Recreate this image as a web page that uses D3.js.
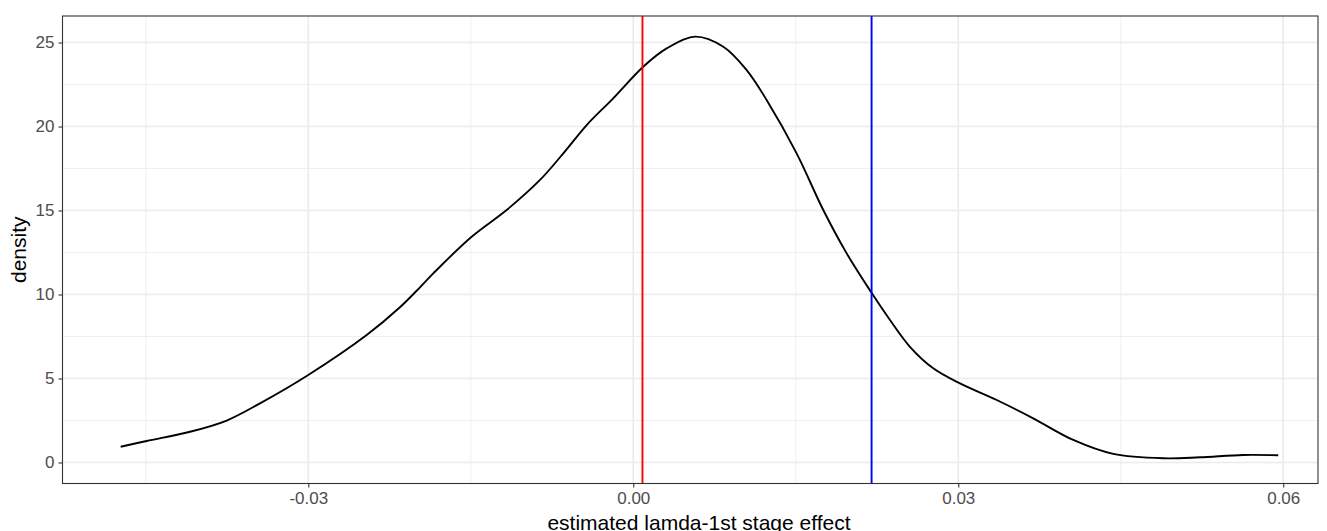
<!DOCTYPE html>
<html lang="en">
<head>
    <meta charset="UTF-8">
    <title>density</title>
    <script src="https://d3js.org/d3.v7.min.js"></script>
    <style>
        body { margin: 0; background: #fff; }
        text { font-family: "Liberation Sans", Arial, sans-serif; }
    </style>
</head>
<body>
<div id="fig"></div>
<script>
    // density estimate
    let xs = [-0.04732, -0.04492, -0.04092, -0.03753, -0.03446, -0.03015, -0.02461, -0.02154,
        -0.01969, -0.01846, -0.01492, -0.01169, -0.00861, -0.00646, -0.00430, -0.00185,
        0.00092, 0.00308, 0.00570, 0.00831, 0.01047, 0.01231, 0.01508, 0.01754, 0.01970,
        0.02203, 0.02370, 0.02554, 0.02769, 0.03016, 0.03355, 0.03692, 0.04062, 0.04431,
        0.04892, 0.05231, 0.05631, 0.05954]
    let dens = [0.94, 1.28, 1.83, 2.50, 3.52, 5.15, 7.59, 9.24,
        10.43, 11.26, 13.44, 15.03, 16.82, 18.40, 20.09, 21.68,
        23.56, 24.65, 25.35, 24.75, 23.36, 21.58, 18.40, 15.03, 12.45,
        10.07, 8.48, 6.89, 5.61, 4.71, 3.72, 2.63, 1.34, 0.51,
        0.25, 0.31, 0.45, 0.43]
    let redLine = 0.00085
    let blueLine = 0.0220
    let xTicks = [-0.03, 0.00, 0.03, 0.06]
    let xMinor = [-0.045, -0.015, 0.015, 0.045]
    let yTicks = [0, 5, 10, 15, 20, 25]
    let yMinor = [2.5, 7.5, 12.5, 17.5, 22.5]

    let W = 1327, H = 531
    let pLeft = 62.5, pRight = 1318, pTop = 16, pBottom = 483.5

    let svg = d3.select("#fig").append("svg")
        .attr("width", W).attr("height", H)

    let x = d3.scaleLinear().domain([-0.05269, 0.06321]).range([pLeft, pRight])
    let y = d3.scaleLinear().domain([-1.25, 26.58]).range([pBottom, pTop])

    let grid = svg.append("g")
    grid.selectAll(".xmin").data(xMinor).join("line")
        .attr("x1", d => x(d)).attr("x2", d => x(d)).attr("y1", pTop).attr("y2", pBottom)
        .attr("stroke", "#EBEBEB").attr("stroke-width", 0.8)
    grid.selectAll(".ymin").data(yMinor).join("line")
        .attr("y1", d => y(d)).attr("y2", d => y(d)).attr("x1", pLeft).attr("x2", pRight)
        .attr("stroke", "#EBEBEB").attr("stroke-width", 0.8)
    grid.selectAll(".xmaj").data(xTicks).join("line")
        .attr("x1", d => x(d)).attr("x2", d => x(d)).attr("y1", pTop).attr("y2", pBottom)
        .attr("stroke", "#EBEBEB").attr("stroke-width", 1.6)
    grid.selectAll(".ymaj").data(yTicks).join("line")
        .attr("y1", d => y(d)).attr("y2", d => y(d)).attr("x1", pLeft).attr("x2", pRight)
        .attr("stroke", "#EBEBEB").attr("stroke-width", 1.6)

    let pts = xs.map((d, i) => [d, dens[i]])
    let line = d3.line().x(d => x(d[0])).y(d => y(d[1])).curve(d3.curveCatmullRom)
    svg.append("path").datum(pts)
        .attr("d", line)
        .attr("fill", "none").attr("stroke", "black").attr("stroke-width", 1.9)

    svg.append("line")
        .attr("x1", x(redLine)).attr("x2", x(redLine)).attr("y1", pTop).attr("y2", pBottom)
        .attr("stroke", "red").attr("stroke-width", 1.9)
    svg.append("line")
        .attr("x1", x(blueLine)).attr("x2", x(blueLine)).attr("y1", pTop).attr("y2", pBottom)
        .attr("stroke", "blue").attr("stroke-width", 1.9)

    svg.append("rect")
        .attr("x", pLeft).attr("y", pTop).attr("width", pRight - pLeft).attr("height", pBottom - pTop)
        .attr("fill", "none").attr("stroke", "#333333").attr("stroke-width", 1.1)

    let fmt = d => d3.format(".2f")(d).replace("\u2212", "-")
    let xAxis = svg.append("g").attr("transform", `translate(0,${pBottom})`)
        .call(d3.axisBottom(x).tickValues(xTicks).tickFormat(fmt).tickSizeOuter(0).tickSize(4).tickPadding(4))
    let yAxis = svg.append("g").attr("transform", `translate(${pLeft},0)`)
        .call(d3.axisLeft(y).tickValues(yTicks).tickSizeOuter(0).tickSize(4).tickPadding(4))
    for (let ax of [xAxis, yAxis]) {
        ax.select(".domain").remove()
        ax.selectAll(".tick line").attr("stroke", "#333333").attr("stroke-width", 1.1)
        ax.selectAll(".tick text").attr("fill", "#4D4D4D")
            .style("font-size", "17px").style("font-family", "Liberation Sans, Arial, sans-serif")
    }

    svg.append("text")
        .attr("x", 699).attr("y", 530)
        .attr("text-anchor", "middle").style("font-size", "21px")
        .text("estimated lamda-1st stage effect")
    svg.append("text")
        .attr("transform", `translate(26,${(pTop + pBottom) / 2}) rotate(-90)`)
        .attr("text-anchor", "middle").style("font-size", "21px")
        .text("density")
</script>
</body>
</html>
